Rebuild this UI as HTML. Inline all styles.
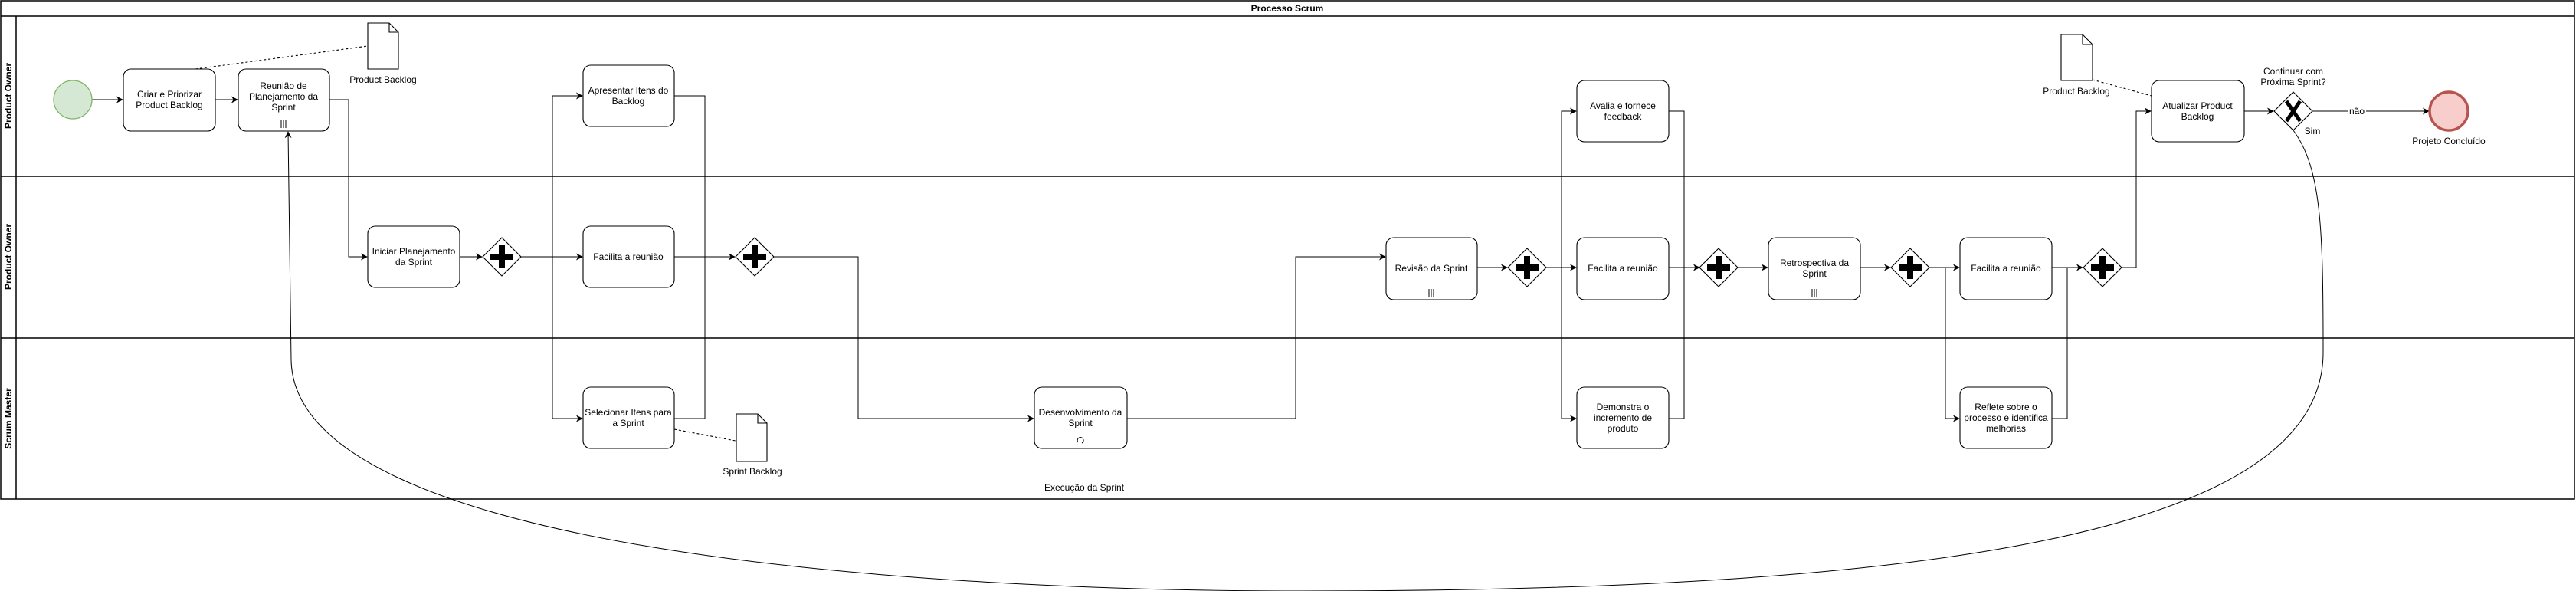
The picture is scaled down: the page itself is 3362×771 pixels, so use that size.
<!DOCTYPE html>
<html><head><meta charset="utf-8"><style>
html,body{margin:0;padding:0;background:#fff;}
svg{display:block;}
text{font-family:"Liberation Sans",sans-serif;font-size:12px;fill:#000;}
.b{fill:#fff;stroke:#000;stroke-width:1.1;}
.l{fill:none;stroke:#000;stroke-width:1;}
</style></head><body>
<svg width="3362" height="771" viewBox="0 0 3362 771" xmlns="http://www.w3.org/2000/svg">
<defs>
<marker id="a" viewBox="0 0 10 10" refX="9" refY="5" markerWidth="9" markerHeight="9" orient="auto" markerUnits="userSpaceOnUse"><path d="M0,0 L10,5 L0,10 L3,5 z" fill="#000"/></marker>
<g id="pg"><path d="M0,-25 L25,0 L0,25 L-25,0 Z" fill="#fff" stroke="#000" stroke-width="1.1"/><path d="M-4,-15 H4 V-4 H15 V4 H4 V15 H-4 V4 H-15 V-4 H-4 Z" fill="#000"/></g>
</defs>
<rect x="1" y="1" width="3359" height="650" fill="none" stroke="#000" stroke-width="1.5"/>
<line x1="1" y1="21" x2="3360" y2="21" stroke="#000" stroke-width="1.5"/>
<line x1="1" y1="230" x2="3360" y2="230" stroke="#000" stroke-width="1.5"/>
<line x1="1" y1="441" x2="3360" y2="441" stroke="#000" stroke-width="1.5"/>
<line x1="21" y1="21" x2="21" y2="651" stroke="#000" stroke-width="1.5"/>
<text x="1680" y="15" text-anchor="middle" font-weight="bold">Processo Scrum</text>
<text transform="translate(15,125) rotate(-90)" text-anchor="middle" font-weight="bold">Product Owner</text>
<text transform="translate(15,335) rotate(-90)" text-anchor="middle" font-weight="bold">Product Owner</text>
<text transform="translate(15,546) rotate(-90)" text-anchor="middle" font-weight="bold">Scrum Master</text>

<g class="l" marker-end="url(#a)">
<path d="M120,130 H160"/>
<path d="M281,130 H310"/>
<path d="M430,130 H455 V335 H479"/>
<path d="M600,335 H629"/>
<path d="M680,335 H760"/>
<path d="M721,335 V125 H760"/>
<path d="M721,335 V546 H760"/>
<path d="M880,335 H959"/>
<path d="M1010,335 H1120 V546 H1349"/>
<path d="M1471,546 H1691 V335 H1808"/>
<path d="M1928,349 H1967"/>
<path d="M2018,349 H2057"/>
<path d="M2038,349 V145 H2057"/>
<path d="M2038,349 V546 H2057"/>
<path d="M2178,349 H2218"/>
<path d="M2268,349 H2307"/>
<path d="M2428,349 H2467"/>
<path d="M2518,349 H2557"/>
<path d="M2539,349 V546 H2557"/>
<path d="M2678,349 H2718"/>
<path d="M2769,349 H2788 V145 H2807"/>
<path d="M2929,145 H2967"/>
<path d="M3018,145 H3170"/>
<path d="M2993,170 C3030,220 3032,300 3032,460 C3032,700 2500,771 1700,771 C1200,771 385,720 380,470 L376,172"/>
</g>
<g class="l">
<path d="M880,125 H920 V546 H880"/>
<path d="M2178,145 H2198 V546 H2178"/>
<path d="M2198,349 H2218"/>
<path d="M2678,546 H2698 V349"/>
</g>
<g fill="none" stroke="#000" stroke-width="1.1" stroke-dasharray="3,3">
<path d="M255,90 L480,60"/>
<path d="M880,560 L960,575"/>
<path d="M2731,104 L2808,125"/>
</g>

<circle cx="95" cy="130" r="25" fill="#d5e8d4" stroke="#82b366" stroke-width="1.3"/>
<circle cx="3196" cy="145" r="25" fill="#f8cecc" stroke="#b85450" stroke-width="3.5"/>
<text x="3196" y="188" text-anchor="middle">Projeto Concluído</text>

<rect class="b" x="161" y="90" width="120" height="81" rx="10"/>
<text x="221" y="127" text-anchor="middle">Criar e Priorizar</text><text x="221" y="141" text-anchor="middle">Product Backlog</text>
<rect class="b" x="311" y="90" width="119" height="81" rx="10"/>
<text x="370" y="116" text-anchor="middle">Reunião de</text><text x="370" y="130" text-anchor="middle">Planejamento da</text><text x="370" y="144" text-anchor="middle">Sprint</text>
<path d="M367,157v10M370,157v10M373,157v10" stroke="#000" stroke-width="1"/>
<rect class="b" x="761" y="85" width="119" height="80" rx="10"/>
<text x="820" y="122" text-anchor="middle">Apresentar Itens do</text><text x="820" y="136" text-anchor="middle">Backlog</text>
<rect class="b" x="480" y="295" width="120" height="80" rx="10"/>
<text x="540" y="332" text-anchor="middle">Iniciar Planejamento</text><text x="540" y="346" text-anchor="middle">da Sprint</text>
<rect class="b" x="761" y="295" width="119" height="80" rx="10"/>
<text x="820" y="339" text-anchor="middle">Facilita a reunião</text>
<rect class="b" x="761" y="505" width="119" height="80" rx="10"/>
<text x="820" y="542" text-anchor="middle">Selecionar Itens para</text><text x="820" y="556" text-anchor="middle">a Sprint</text>
<rect class="b" x="1350" y="505" width="121" height="80" rx="10"/>
<text x="1410" y="542" text-anchor="middle">Desenvolvimento da</text><text x="1410" y="556" text-anchor="middle">Sprint</text>
<path d="M1407,577 a4,4 0 1 1 5,1" fill="none" stroke="#000" stroke-width="1"/>
<text x="1415" y="640" text-anchor="middle">Execução da Sprint</text>
<rect class="b" x="1809" y="310" width="119" height="81" rx="10"/>
<text x="1868" y="354" text-anchor="middle">Revisão da Sprint</text>
<path d="M1865,377v10M1868,377v10M1871,377v10" stroke="#000" stroke-width="1"/>
<rect class="b" x="2058" y="105" width="120" height="80" rx="10"/>
<text x="2118" y="142" text-anchor="middle">Avalia e fornece</text><text x="2118" y="156" text-anchor="middle">feedback</text>
<rect class="b" x="2058" y="310" width="120" height="81" rx="10"/>
<text x="2118" y="354" text-anchor="middle">Facilita a reunião</text>
<rect class="b" x="2058" y="505" width="120" height="80" rx="10"/>
<text x="2118" y="535" text-anchor="middle">Demonstra o</text><text x="2118" y="549" text-anchor="middle">incremento de</text><text x="2118" y="563" text-anchor="middle">produto</text>
<rect class="b" x="2308" y="310" width="120" height="81" rx="10"/>
<text x="2368" y="347" text-anchor="middle">Retrospectiva da</text><text x="2368" y="361" text-anchor="middle">Sprint</text>
<path d="M2365,377v10M2368,377v10M2371,377v10" stroke="#000" stroke-width="1"/>
<rect class="b" x="2558" y="310" width="120" height="81" rx="10"/>
<text x="2618" y="354" text-anchor="middle">Facilita a reunião</text>
<rect class="b" x="2558" y="505" width="120" height="80" rx="10"/>
<text x="2618" y="535" text-anchor="middle">Reflete sobre o</text><text x="2618" y="549" text-anchor="middle">processo e identifica</text><text x="2618" y="563" text-anchor="middle">melhorias</text>
<rect class="b" x="2808" y="105" width="121" height="80" rx="10"/>
<text x="2868" y="142" text-anchor="middle">Atualizar Product</text><text x="2868" y="156" text-anchor="middle">Backlog</text>

<use href="#pg" x="655" y="335"/>
<use href="#pg" x="985" y="335"/>
<use href="#pg" x="1993" y="349"/>
<use href="#pg" x="2243" y="349"/>
<use href="#pg" x="2493" y="349"/>
<use href="#pg" x="2744" y="349"/>
<path d="M2993,120 L3018,145 L2993,170 L2968,145 Z" fill="#fff" stroke="#000" stroke-width="1.1"/>
<path d="M2984,132 L3002,158 M3002,132 L2984,158" stroke="#000" stroke-width="5"/>
<text x="2993" y="97" text-anchor="middle">Continuar com</text><text x="2993" y="111" text-anchor="middle">Próxima Sprint?</text>
<rect x="3064" y="139" width="24" height="13" fill="#fff"/>
<text x="3076" y="149" text-anchor="middle" font-size="10">não</text>
<text x="3018" y="175" text-anchor="middle" font-size="10">Sim</text>

<path d="M480,30 H508 L520,42 V90 H480 Z M508,30 V42 H520" class="b"/>
<text x="500" y="108" text-anchor="middle">Product Backlog</text>
<path d="M961,540 H989 L1001,552 V602 H961 Z M989,540 V552 H1001" class="b"/>
<text x="982" y="619" text-anchor="middle">Sprint Backlog</text>
<path d="M2690,45 H2718 L2731,58 V105 H2690 Z M2718,45 V58 H2731" class="b"/>
<text x="2710" y="123" text-anchor="middle">Product Backlog</text>
</svg>
</body></html>
